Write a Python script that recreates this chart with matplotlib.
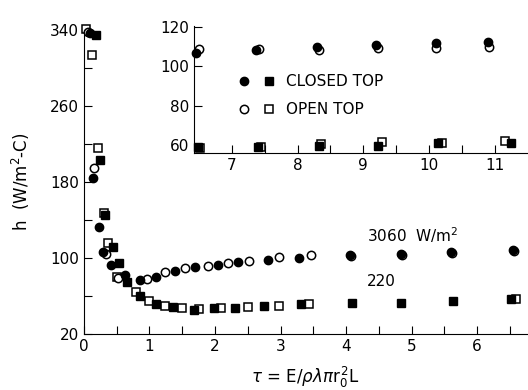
import matplotlib
matplotlib.use('Agg')
import matplotlib.pyplot as plt
from matplotlib.legend_handler import HandlerTuple

## main plot data (tau, h)
cc_x = [0.09, 0.14, 0.23, 0.29, 0.41, 0.63, 0.85, 1.10, 1.39, 1.69, 2.05, 2.35, 2.81, 3.28, 4.06, 4.84, 5.60, 6.55]
cc_y = [337, 184, 133, 106, 93, 82, 77, 80, 86, 90, 93, 96, 98, 100, 103, 104, 106, 108]
oc_x = [0.06, 0.15, 0.33, 0.52, 0.96, 1.24, 1.54, 1.89, 2.20, 2.52, 2.98, 3.47, 4.08, 4.86, 5.62, 6.57]
oc_y = [338, 195, 104, 79, 78, 85, 89, 91, 95, 97, 101, 103, 102, 103, 105, 107]
cs_x = [0.18, 0.25, 0.32, 0.44, 0.53, 0.65, 0.85, 1.10, 1.36, 1.68, 1.98, 2.31, 2.75, 3.31, 4.09, 4.84, 5.63, 6.52]
cs_y = [335, 203, 145, 111, 95, 75, 60, 51, 48, 45, 47, 47, 49, 51, 52, 53, 55, 57]
os_x = [0.03, 0.12, 0.21, 0.30, 0.37, 0.50, 0.80, 1.00, 1.24, 1.50, 1.76, 2.09, 2.50, 2.98, 3.43, 6.60]
os_y = [341, 314, 216, 147, 116, 80, 64, 55, 49, 47, 46, 47, 48, 49, 51, 57]

## inset data
icc_x = [6.45, 7.37, 8.30, 9.20, 10.10, 10.90]
icc_y = [106.8, 108.3, 109.8, 110.9, 112.0, 112.5]
ioc_x = [6.50, 7.42, 8.32, 9.23, 10.10, 10.92]
ioc_y = [108.8, 108.8, 108.3, 109.2, 109.3, 110.0]
ics_x = [6.49, 7.40, 8.33, 9.23, 10.13, 11.25]
ics_y = [59.0, 59.0, 59.6, 59.6, 61.0, 61.0]
ios_x = [6.52, 7.45, 8.36, 9.28, 10.20, 11.15]
ios_y = [58.6, 59.2, 60.6, 61.6, 61.0, 62.0]

plt.rcParams['font.family'] = 'DejaVu Sans'
plt.rcParams['font.size'] = 11

fig = plt.figure(figsize=(5.28, 3.90), dpi=100)
ax = fig.add_axes([0.159, 0.144, 0.839, 0.779])

ms = 6
closed = dict(color='black', linestyle='none', markersize=ms)
opened = dict(color='black', linestyle='none', markersize=ms, markerfacecolor='white', markeredgewidth=1.1)

ax.plot(os_x, os_y, 's', clip_on=False, **opened)
ax.plot(oc_x, oc_y, 'o', clip_on=False, **opened)
ax.plot(cs_x, cs_y, 's', clip_on=False, **closed)
ax.plot(cc_x, cc_y, 'o', clip_on=False, **closed)

ax.set_xlim(0, 6.76)
ax.set_ylim(20, 340)
ax.set_xticks([0, 1, 2, 3, 4, 5, 6])
ax.set_xticks([0.5, 1.5, 2.5, 3.5, 4.5, 5.5, 6.5], minor=True)
ax.set_yticks([20, 100, 180, 260, 340])
ax.set_yticks([60, 140, 220, 300], minor=True)
ax.tick_params(which='both', direction='in', width=0.8, length=6)
ax.spines['top'].set_visible(False)
ax.spines['right'].set_visible(False)

ax.text(4.32, 124, '3060  W/m$^2$', fontsize=11, va='center')
ax.text(4.32, 75, '220', fontsize=11, va='center')

ax.set_xlabel(r'$\tau$ = E/$\rho\lambda\pi$r$_0^{\,2}$L', fontsize=12, labelpad=8)
ax.set_ylabel('h  (W/m$^2$-C)', fontsize=12, labelpad=13)

## inset
ins = fig.add_axes([0.367, 0.608, 0.631, 0.325])
ins.plot(ios_x, ios_y, 's', clip_on=False, **opened)
ins.plot(ioc_x, ioc_y, 'o', clip_on=False, **opened)
h_cs, = ins.plot(ics_x, ics_y, 's', clip_on=False, **closed)
h_cc, = ins.plot(icc_x, icc_y, 'o', clip_on=False, **closed)
h_os, = ins.plot([], [], 's', **opened)
h_oc, = ins.plot([], [], 'o', **opened)

ins.set_xlim(6.42, 11.49)
ins.set_ylim(56, 120.5)
ins.set_xticks([7, 8, 9, 10, 11])
ins.set_xticks([7.5, 8.5, 9.5, 10.5], minor=True)
ins.set_yticks([60, 80, 100, 120])
ins.tick_params(which='both', direction='in', length=6, width=0.8)
ins.spines['top'].set_visible(False)
ins.spines['right'].set_visible(False)
ins.patch.set_alpha(0)

ins.legend([(h_cc, h_cs), (h_oc, h_os)], ['CLOSED TOP', 'OPEN TOP'],
           handler_map={tuple: HandlerTuple(ndivide=None, pad=1.0)},
           frameon=False, loc='upper left', bbox_to_anchor=(0.095, 0.73),
           handlelength=2.3, handletextpad=0.75, labelspacing=0.85, fontsize=11)

fig.savefig('out.png', dpi=100)
